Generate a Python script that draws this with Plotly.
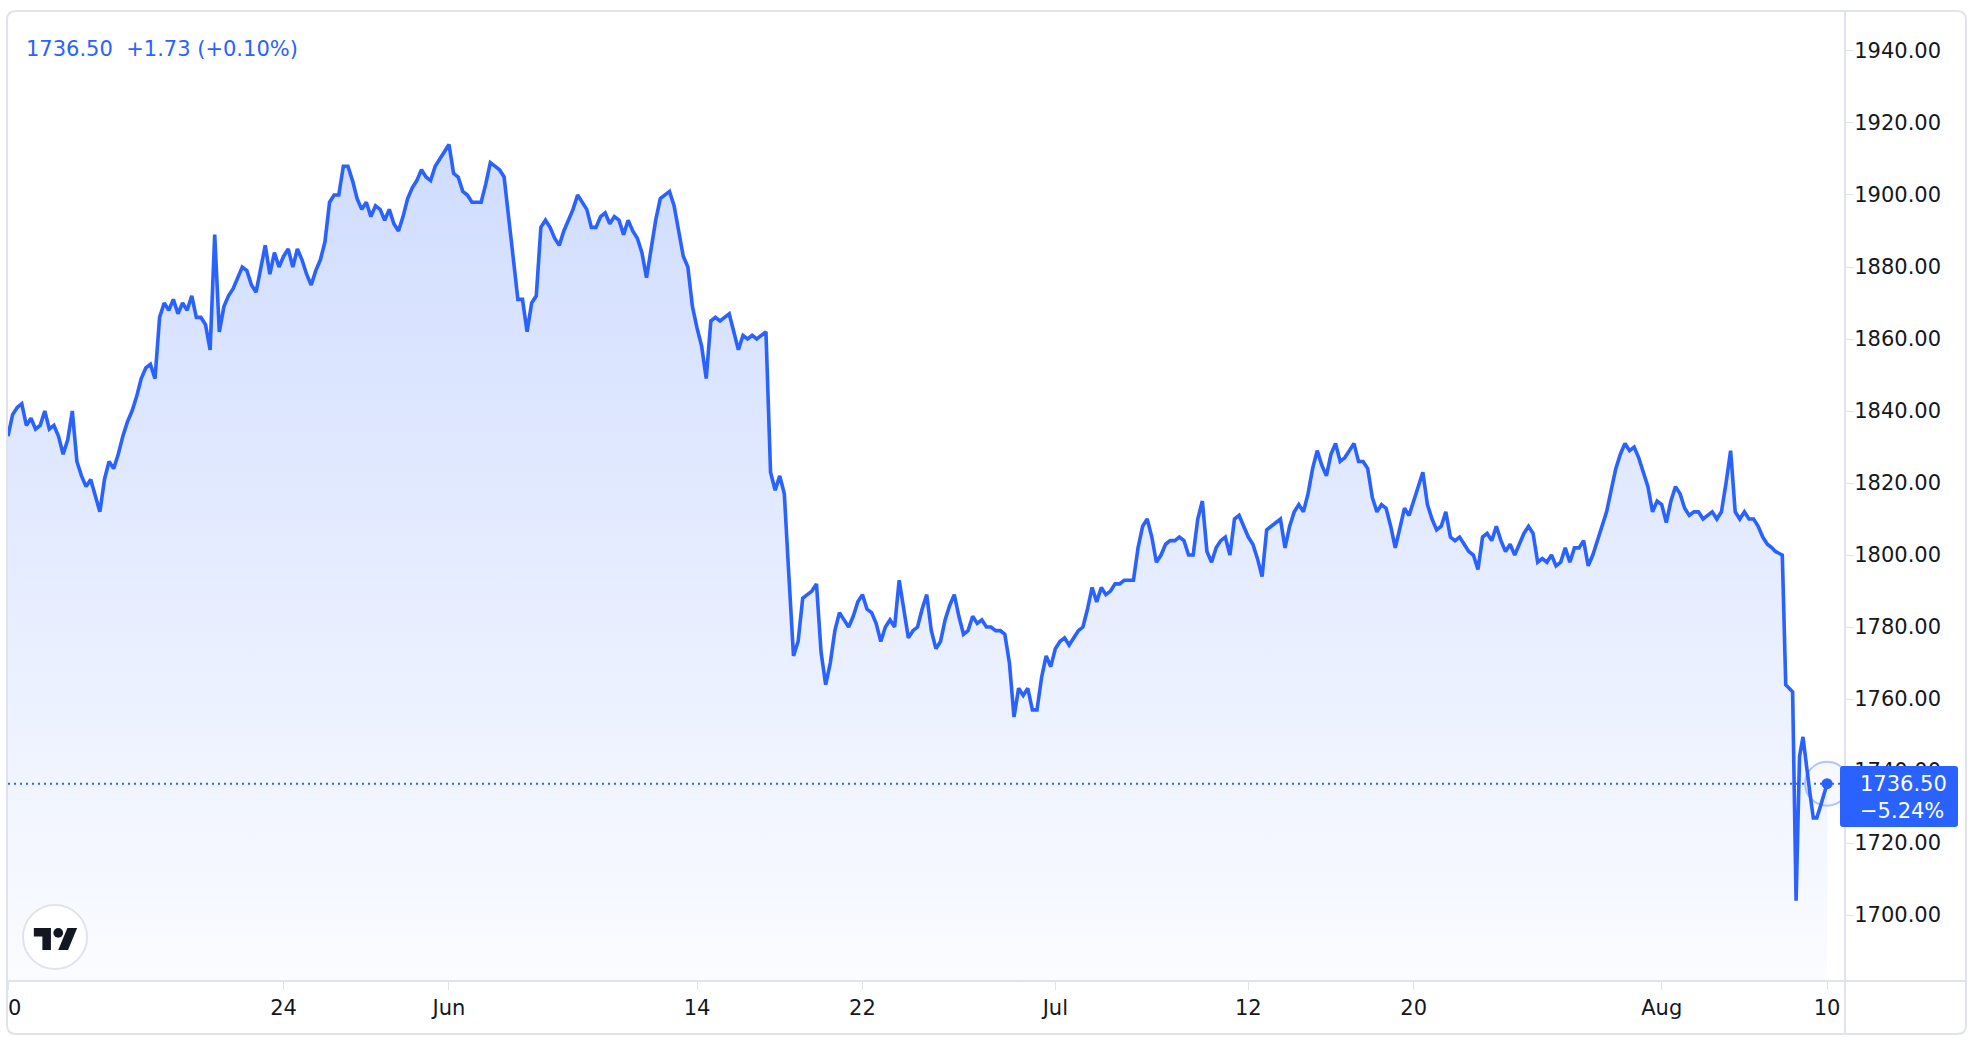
import plotly.graph_objects as go
import pandas as pd

# ---------------- data ----------------
trading_days = [
    "2021-05-10", "2021-05-11", "2021-05-12", "2021-05-13", "2021-05-14",
    "2021-05-17", "2021-05-18", "2021-05-19", "2021-05-20", "2021-05-21",
    "2021-05-24", "2021-05-25", "2021-05-26", "2021-05-27", "2021-05-28",
    "2021-05-31", "2021-06-01", "2021-06-02", "2021-06-03", "2021-06-04",
    "2021-06-07", "2021-06-08", "2021-06-09", "2021-06-10", "2021-06-11",
    "2021-06-14", "2021-06-15", "2021-06-16", "2021-06-17", "2021-06-18",
    "2021-06-21", "2021-06-22", "2021-06-23", "2021-06-24", "2021-06-25",
    "2021-06-28", "2021-06-29", "2021-06-30", "2021-07-01", "2021-07-02",
    "2021-07-05", "2021-07-06", "2021-07-07", "2021-07-08", "2021-07-09",
    "2021-07-12", "2021-07-13", "2021-07-14", "2021-07-15", "2021-07-16",
    "2021-07-19", "2021-07-20", "2021-07-21", "2021-07-22", "2021-07-23",
    "2021-07-26", "2021-07-27", "2021-07-28", "2021-07-29", "2021-07-30",
    "2021-08-02", "2021-08-03", "2021-08-04", "2021-08-05", "2021-08-06",
    "2021-08-09", "2021-08-10",
]

# intraday prices per trading day (evenly spaced within the day)
prices = [
    [1833, 1839, 1841, 1842, 1836, 1838],  # May 10
    [1835, 1836, 1840, 1835, 1836, 1833],  # May 11
    [1828, 1832, 1840, 1826, 1822, 1819],  # May 12
    [1821, 1816, 1812, 1821, 1826, 1824],  # May 13
    [1828, 1833, 1837, 1840, 1844, 1849],  # May 14
    [1852, 1853, 1849, 1866, 1870, 1868],  # May 17
    [1871, 1867, 1870, 1868, 1872, 1866],  # May 18
    [1866, 1864, 1857, 1889, 1862, 1869],  # May 19
    [1872, 1874, 1877, 1880, 1879, 1875],  # May 20
    [1873, 1880, 1886, 1878, 1884, 1880],  # May 21
    [1883, 1885, 1880, 1885, 1882, 1878],  # May 24
    [1875, 1879, 1882, 1887, 1898, 1900],  # May 25
    [1900, 1908, 1908, 1904, 1899, 1896],  # May 26
    [1898, 1894, 1897, 1896, 1893, 1896],  # May 27
    [1892, 1890, 1894, 1899, 1902, 1904],  # May 28
    [1907, 1905, 1904, 1908, 1910, 1912],  # May 31
    [1914, 1906, 1905, 1901, 1900, 1898],  # Jun 1
    [1898, 1898, 1903, 1909, 1908, 1907],  # Jun 2
    [1905, 1893, 1882, 1871, 1871, 1862],  # Jun 3
    [1870, 1872, 1891, 1893, 1891, 1888],  # Jun 4
    [1886, 1890, 1893, 1896, 1900, 1898],  # Jun 7
    [1896, 1891, 1891, 1894, 1895, 1892],  # Jun 8
    [1894, 1893, 1889, 1893, 1890, 1888],  # Jun 9
    [1884, 1877, 1885, 1893, 1899, 1900],  # Jun 10
    [1901, 1897, 1890, 1883, 1880, 1869],  # Jun 11
    [1863, 1858, 1849, 1865, 1866, 1865],  # Jun 14
    [1866, 1867, 1862, 1857, 1861, 1860],  # Jun 15
    [1861, 1860, 1861, 1862, 1823, 1818],  # Jun 16
    [1822, 1817, 1794, 1772, 1776, 1788],  # Jun 17
    [1789, 1790, 1792, 1773, 1764, 1770],  # Jun 18
    [1779, 1784, 1782, 1780, 1783, 1787],  # Jun 21
    [1789, 1785, 1784, 1781, 1776, 1780],  # Jun 22
    [1782, 1780, 1793, 1785, 1777, 1779],  # Jun 23
    [1780, 1785, 1789, 1779, 1774, 1776],  # Jun 24
    [1782, 1786, 1789, 1783, 1778, 1779],  # Jun 25
    [1783, 1781, 1782, 1780, 1780, 1779],  # Jun 28
    [1779, 1778, 1770, 1755, 1763, 1761],  # Jun 29
    [1763, 1757, 1757, 1766, 1772, 1769],  # Jun 30
    [1774, 1776, 1777, 1775, 1777, 1779],  # Jul 1
    [1780, 1785, 1791, 1787, 1791, 1789],  # Jul 2
    [1790, 1792, 1792, 1793, 1793, 1793],  # Jul 5
    [1802, 1808, 1810, 1805, 1798, 1800],  # Jul 6
    [1803, 1804, 1804, 1805, 1804, 1800],  # Jul 7
    [1800, 1810, 1815, 1801, 1798, 1802],  # Jul 8
    [1804, 1805, 1800, 1810, 1811, 1808],  # Jul 9
    [1805, 1803, 1799, 1794, 1807, 1808],  # Jul 12
    [1809, 1810, 1802, 1808, 1812, 1814],  # Jul 13
    [1812, 1817, 1824, 1829, 1825, 1822],  # Jul 14
    [1828, 1831, 1826, 1827, 1829, 1831],  # Jul 15
    [1826, 1826, 1824, 1816, 1812, 1814],  # Jul 16
    [1813, 1808, 1802, 1808, 1813, 1811],  # Jul 19
    [1815, 1819, 1823, 1814, 1810, 1807],  # Jul 20
    [1808, 1812, 1805, 1804, 1805, 1803],  # Jul 21
    [1801, 1800, 1796, 1805, 1806, 1804],  # Jul 22
    [1808, 1804, 1801, 1803, 1800, 1803],  # Jul 23
    [1806, 1808, 1806, 1798, 1799, 1798],  # Jul 26
    [1800, 1797, 1798, 1802, 1798, 1802],  # Jul 27
    [1802, 1804, 1797, 1800, 1804, 1808],  # Jul 28
    [1812, 1818, 1824, 1828, 1831, 1829],  # Jul 29
    [1830, 1827, 1823, 1819, 1812, 1815],  # Jul 30
    [1814, 1809, 1815, 1819, 1817, 1813],  # Aug 2
    [1811, 1812, 1812, 1810, 1811, 1812],  # Aug 3
    [1810, 1812, 1820, 1829, 1812, 1810],  # Aug 4
    [1812, 1810, 1810, 1808, 1805, 1803],  # Aug 5
    [1802, 1801, 1800.5, 1800, 1764, 1763, 1762, 1704],  # Aug 6 (+ session open flash low)
    [1744, 1749.5, 1741, 1734, 1727, 1727, 1730, 1733],  # Aug 9
    [1736.5],  # Aug 10
]

tick_dates = ["2021-05-10", "2021-05-24", "2021-06-01", "2021-06-14", "2021-06-22",
              "2021-07-01", "2021-07-12", "2021-07-20", "2021-08-02", "2021-08-10"]
tick_labels = ["10", "24", "Jun", "14", "22", "Jul", "12", "20", "Aug", "10"]

y_ticks = [1700, 1720, 1740, 1760, 1780, 1800, 1820, 1840, 1860, 1880, 1900, 1920, 1940]
y_tick_text = ["%.2f" % v for v in y_ticks]

last_price = 1736.50
header_text = "1736.50\u00a0\u00a0+1.73\u00a0(+0.10%)"
badge_text = "1736.50<br>\u22125.24%"

# ---------------- styling / geometry ----------------
BLUE = "#2962ff"
GRAY = "#e0e3eb"
TXT = "#131722"
FONT = "DejaVu Sans"
FS = 21
W, H = 1980, 1044
L, R, T, B = 8, 135, 11, 63
PW, PH = W - L - R, H - T - B
Y_RANGE = [1681.7, 1951.1]
X_RANGE = ["2021-05-10 00:00", "2021-08-10 15:36"]


def px(x):
    return (x - L) / PW


def py(y):
    return (H - B - y) / PH


# build x/y from the per-day lists
xs, ys = [], []
for day, vals in zip(trading_days, prices):
    n = len(vals)
    for j, v in enumerate(vals):
        xs.append(pd.Timestamp(day) + pd.Timedelta(hours=24.0 * j / n))
        ys.append(v)

fig = go.Figure()
fig.add_trace(go.Scatter(
    x=xs, y=ys, mode="lines",
    line=dict(color=BLUE, width=3.6),
    fill="tozeroy",
    fillgradient=dict(type="vertical",
                      colorscale=[[0, "rgba(41,98,255,0.02)"], [1, "rgba(41,98,255,0.22)"]],
                      start=Y_RANGE[0], stop=1915),
    hoverinfo="skip", showlegend=False,
))
# last point halo + dot
fig.add_trace(go.Scatter(
    x=[xs[-1]], y=[ys[-1]], mode="markers",
    marker=dict(size=44, color="rgba(41,98,255,0.04)",
                line=dict(color="rgba(41,98,255,0.35)", width=2)),
    hoverinfo="skip", showlegend=False, cliponaxis=False,
))
fig.add_trace(go.Scatter(
    x=[xs[-1]], y=[ys[-1]], mode="markers",
    marker=dict(size=11, color=BLUE),
    hoverinfo="skip", showlegend=False, cliponaxis=False,
))


def rounded_rect(x0, y0, x1, y1, r):
    return (f"M {px(x0 + r)},{py(y0)} L {px(x1 - r)},{py(y0)} "
            f"Q {px(x1)},{py(y0)} {px(x1)},{py(y0 + r)} L {px(x1)},{py(y1 - r)} "
            f"Q {px(x1)},{py(y1)} {px(x1 - r)},{py(y1)} L {px(x0 + r)},{py(y1)} "
            f"Q {px(x0)},{py(y1)} {px(x0)},{py(y1 - r)} L {px(x0)},{py(y0 + r)} "
            f"Q {px(x0)},{py(y0)} {px(x0 + r)},{py(y0)} Z")


def poly(points):
    return "M " + " L ".join(f"{px(a)},{py(b)}" for a, b in points) + " Z"


# TradingView logo geometry (viewbox 36x28)
S, CX, CY = 1.22, 55.5, 939.0


def lg(vx, vy):
    return (CX + (vx - 17.75) * S, CY + (vy - 13) * S)


t_shape = [lg(14, 22), lg(7, 22), lg(7, 11), lg(0, 11), lg(0, 4), lg(14, 4)]
slash = [lg(28, 22), lg(20, 22), lg(27.5, 4), lg(35.5, 4)]
dot_c = lg(20, 8)

shapes = [
    # dotted last-price line
    dict(type="line", xref="paper", yref="y", x0=0, x1=1, y0=last_price, y1=last_price,
         line=dict(color=BLUE, width=2, dash="2px,4px"), layer="above"),
    # widget edge: anything left of the frame is clipped
    dict(type="rect", xref="paper", yref="paper", x0=px(-4), x1=px(7), y0=py(982), y1=py(1044),
         line=dict(width=0), fillcolor="white", layer="above"),
    # axis separator lines
    dict(type="line", xref="paper", yref="paper", x0=px(7), x1=px(1966), y0=py(981), y1=py(981),
         line=dict(color=GRAY, width=2), layer="above"),
    dict(type="line", xref="paper", yref="paper", x0=px(1845), x1=px(1845), y0=py(11), y1=py(1034),
         line=dict(color=GRAY, width=2), layer="above"),
    # frame
    dict(type="path", xref="paper", yref="paper", path=rounded_rect(7, 11, 1966, 1034, 9),
         line=dict(color=GRAY, width=2), fillcolor="rgba(0,0,0,0)", layer="above"),
    # price badge
    dict(type="path", xref="paper", yref="paper", path=rounded_rect(1840, 766, 1958, 827, 3),
         line=dict(width=0), fillcolor=BLUE, layer="above"),
    # logo
    dict(type="circle", xref="paper", yref="paper", x0=px(23), x1=px(87), y0=py(905), y1=py(969),
         line=dict(color=GRAY, width=2), fillcolor="white", layer="above"),
    dict(type="path", xref="paper", yref="paper", path=poly(t_shape),
         line=dict(width=0), fillcolor=TXT, layer="above"),
    dict(type="path", xref="paper", yref="paper", path=poly(slash),
         line=dict(width=0), fillcolor=TXT, layer="above"),
    dict(type="circle", xref="paper", yref="paper",
         x0=px(dot_c[0] - 4 * S), x1=px(dot_c[0] + 4 * S),
         y0=py(dot_c[1] - 4 * S), y1=py(dot_c[1] + 4 * S),
         line=dict(width=0), fillcolor=TXT, layer="above"),
]

annotations = [
    dict(text=header_text, xref="paper", yref="paper", x=px(24), y=py(49),
         xanchor="left", yanchor="middle", showarrow=False,
         font=dict(family=FONT, size=FS, color=BLUE)),
    dict(text=badge_text, xref="paper", yref="paper", x=px(1858), y=py(797),
         xanchor="left", yanchor="middle", showarrow=False, align="left",
         font=dict(family=FONT, size=FS, color="white")),
]

fig.update_layout(
    width=W, height=H,
    margin=dict(l=L, r=R, t=T, b=B, pad=0),
    paper_bgcolor="white", plot_bgcolor="white",
    showlegend=False, hovermode=False,
    font=dict(family=FONT, size=FS, color=TXT),
    xaxis=dict(
        type="date", range=X_RANGE,
        rangebreaks=[dict(bounds=["sat", "mon"])],
        tickmode="array", tickvals=tick_dates, ticktext=tick_labels,
        ticks="outside", ticklen=8, tickwidth=1, tickcolor=GRAY,
        showgrid=False, zeroline=False, showline=False, automargin=False,
        ticklabeloverflow="allow",
        tickfont=dict(family=FONT, size=FS, color=TXT),
    ),
    yaxis=dict(
        side="right", range=Y_RANGE,
        tickmode="array", tickvals=y_ticks, ticktext=y_tick_text,
        ticks="outside", ticklen=8, tickwidth=1, tickcolor=GRAY,
        showgrid=False, zeroline=False, showline=False, automargin=False,
        tickfont=dict(family=FONT, size=FS, color=TXT), ticklabelstandoff=-4,
    ),
    shapes=shapes,
    annotations=annotations,
)

fig.write_html(
    "out.html",
    config={"displayModeBar": False},
    post_script="document.body.style.margin='0';document.body.style.overflow='hidden';",
)
